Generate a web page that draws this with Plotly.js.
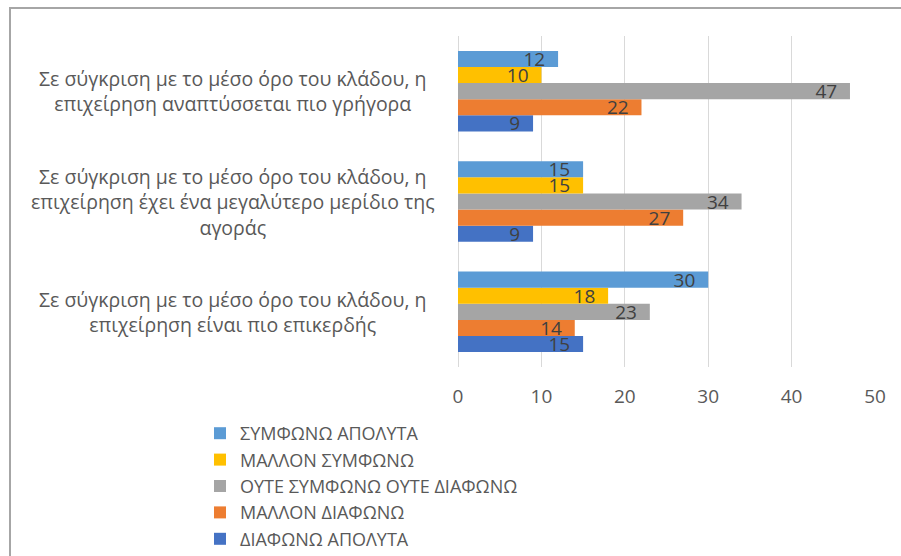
<!DOCTYPE html>
<html>
<head>
<meta charset="utf-8">
<script src="https://cdn.plot.ly/plotly-3.0.1.min.js"></script>
<style>
  html, body { margin: 0; padding: 0; background: #ffffff; }
  #wrap { position: relative; width: 901px; height: 556px; overflow: hidden; }
  #chart { position: absolute; left: 0; top: 0; width: 901px; height: 556px; }
  #frame { position: absolute; left: 9px; top: 7px; width: 900px; height: 560px;
           border-top: 2px solid #a6a6a6; border-left: 2px solid #a6a6a6; pointer-events: none; }
</style>
</head>
<body>
<div id="wrap">
  <div id="chart"></div>
  <div id="frame"></div>
</div>
<script>
// Categories, bottom to top as drawn
const categories = [
  "Σε σύγκριση με το μέσο όρο του κλάδου, η<br>επιχείρηση είναι πιο επικερδής",
  "Σε σύγκριση με το μέσο όρο του κλάδου, η<br>επιχείρηση έχει ένα μεγαλύτερο μερίδιο της<br>αγοράς",
  "Σε σύγκριση με το μέσο όρο του κλάδου, η<br>επιχείρηση αναπτύσσεται πιο γρήγορα"
];
const seriesNames = [
  "ΔΙΑΦΩΝΩ ΑΠΟΛΥΤΑ",
  "ΜΑΛΛΟΝ ΔΙΑΦΩΝΩ",
  "ΟΥΤΕ ΣΥΜΦΩΝΩ ΟΥΤΕ ΔΙΑΦΩΝΩ",
  "ΜΑΛΛΟΝ ΣΥΜΦΩΝΩ",
  "ΣΥΜΦΩΝΩ ΑΠΟΛΥΤΑ"
];
const diafonoApolyta   = [15, 9, 9];
const mallonDiafono    = [14, 27, 22];
const oyteOyte         = [23, 34, 47];
const mallonSymfono    = [18, 15, 10];
const symfonoApolyta   = [30, 15, 12];
const xTicks = [0, 10, 20, 30, 40, 50];

const seriesValues = [diafonoApolyta, mallonDiafono, oyteOyte, mallonSymfono, symfonoApolyta];
const colors = ["#4472C4", "#ED7D31", "#A5A5A5", "#FFC000", "#5B9BD5"];

const FONT = "Open Sans, Noto Sans, sans-serif";

const traces = seriesNames.map((name, i) => ({
  type: "bar",
  orientation: "h",
  name: name,
  y: categories,
  x: seriesValues[i],
  marker: { color: colors[i], line: { width: 0 } },
  texttemplate: "%{x}\u00a0\u00a0",
  textposition: "inside",
  insidetextanchor: "end",
  textangle: 0,
  textfont: { family: FONT, size: 19, color: "#404040" },
  insidetextfont: { family: FONT, size: 19, color: "#404040" },
  constraintext: "none",
  hoverinfo: "x+name"
}));

const annotations = categories.map(c => ({
  xref: "paper", yref: "y",
  x: -0.54, y: c,
  text: c,
  showarrow: false,
  xanchor: "center", yanchor: "middle",
  align: "center",
  font: { family: FONT, size: 19.5, color: "#595959" }
}));

const layout = {
  width: 901, height: 556,
  margin: { l: 458, r: 26, t: 36, b: 189, pad: 0, autoexpand: false },
  paper_bgcolor: "#ffffff",
  plot_bgcolor: "#ffffff",
  barmode: "group",
  bargap: 0.27,
  bargroupgap: 0,
  font: { family: FONT, color: "#595959", size: 19 },
  xaxis: {
    range: [0, 50],
    tickvals: xTicks,
    ticktext: xTicks.map(String),
    showgrid: true, gridcolor: "#d9d9d9", gridwidth: 1,
    zeroline: true, zerolinecolor: "#d9d9d9", zerolinewidth: 1,
    showline: false,
    ticks: "",
    ticklabelstandoff: 16,
    tickfont: { family: FONT, size: 19, color: "#595959" },
    automargin: false,
    fixedrange: true
  },
  yaxis: {
    type: "category",
    categoryorder: "array",
    categoryarray: categories,
    showticklabels: false,
    showgrid: false, zeroline: false, showline: false, ticks: "",
    automargin: false,
    fixedrange: true
  },
  showlegend: true,
  legend: {
    traceorder: "reversed",
    orientation: "v",
    xref: "container", yref: "container",
    x: 200 / 901, y: 1 - 415 / 556,
    xanchor: "left", yanchor: "top",
    font: { family: FONT, size: 18, color: "#595959" },
    itemwidth: 30,
    bgcolor: "rgba(0,0,0,0)"
  },
  annotations: annotations
};

Plotly.newPlot("chart", traces, layout, { displayModeBar: false, staticPlot: true });
</script>
</body>
</html>
